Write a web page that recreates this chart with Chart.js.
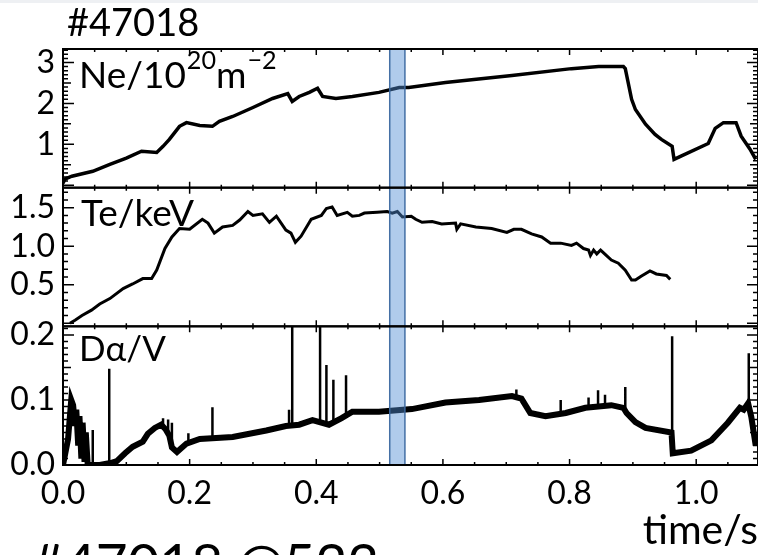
<!DOCTYPE html>
<html>
<head>
<meta charset="utf-8">
<title>#47018</title>
<script src="https://cdn.jsdelivr.net/npm/chart.js@4.4.1/dist/chart.umd.min.js"></script>
<style>
  html, body { margin: 0; padding: 0; width: 758px; height: 555px; overflow: hidden; background: #fff; }
  #wrap { position: relative; width: 758px; height: 555px; font-family: Lato, sans-serif; color: #000; }
  #topbar { position: absolute; left: 0; top: 0; width: 758px; height: 3px; background: #eef0f3; }
  canvas { position: absolute; left: 0; top: 0; }
  .lbl { position: absolute; line-height: 1; white-space: nowrap; }
  .sup { font-size: 0.68em; position: relative; top: -0.75em; margin-left: 1px; }
</style>
</head>
<body>
<div id="wrap">
  <div id="topbar"></div>
  <canvas id="shot" width="758" height="555"></canvas>
  <div class="lbl" style="left:67px; top:2px; font-size:38px;">#47018</div>
  <div class="lbl" style="left:79px; top:55px; font-size:37px;">Ne/10<span class="sup">20</span>m<span class="sup">&minus;2</span></div>
  <div class="lbl" style="left:81px; top:193px; font-size:37px;">Te/keV</div>
  <div class="lbl" style="left:79px; top:330px; font-size:35px;">D&alpha;/V</div>
  <div class="lbl" style="left:32px; top:535px; font-size:55px;">#47018 @523</div>
</div>
<script>
// axis ticks
const xTicks = [0.0, 0.2, 0.4, 0.6, 0.8, 1.0];
const neTicks = [1, 2, 3];
const teTicks = [0.5, 1.0, 1.5];
const daTicks = [0.0, 0.1, 0.2];

// time window of the analysed slice (s)
const bandStart = 0.516;
const bandEnd = 0.540;

// line density Ne (10^20 m^-2)
const neTime = [0.000, 0.003, 0.014, 0.047, 0.074, 0.100, 0.124, 0.148, 0.158, 0.168,
  0.184, 0.195, 0.216, 0.236, 0.247, 0.268, 0.300, 0.331, 0.355, 0.362,
  0.373, 0.389, 0.402, 0.410, 0.431, 0.457, 0.499, 0.531, 0.546, 0.604,
  0.709, 0.803, 0.846, 0.885, 0.888, 0.898, 0.904, 0.920, 0.935, 0.945,
  0.962, 0.965, 0.976, 1.019, 1.030, 1.043, 1.063, 1.071, 1.085, 1.094];
const neValue = [0.05, 0.15, 0.22, 0.34, 0.51, 0.66, 0.83, 0.80, 0.95, 1.12,
  1.44, 1.53, 1.46, 1.44, 1.56, 1.68, 1.90, 2.12, 2.24, 2.05,
  2.17, 2.27, 2.37, 2.17, 2.12, 2.17, 2.27, 2.39, 2.39, 2.51,
  2.68, 2.85, 2.90, 2.90, 2.85, 2.10, 1.85, 1.49, 1.24, 1.12,
  0.95, 0.63, 0.71, 1.02, 1.39, 1.53, 1.53, 1.20, 0.88, 0.63];

// electron temperature Te (keV)
const teTime = [0.011, 0.019, 0.030, 0.045, 0.058, 0.074, 0.095, 0.110, 0.126, 0.140,
  0.148, 0.161, 0.172, 0.184, 0.200, 0.220, 0.229, 0.239, 0.252, 0.268,
  0.279, 0.292, 0.300, 0.315, 0.326, 0.337, 0.352, 0.360, 0.367, 0.376,
  0.392, 0.408, 0.416, 0.425, 0.433, 0.449, 0.457, 0.468, 0.476, 0.496,
  0.512, 0.520, 0.528, 0.536, 0.550, 0.557, 0.567, 0.583, 0.598, 0.620,
  0.622, 0.628, 0.652, 0.677, 0.701, 0.712, 0.724, 0.740, 0.756, 0.770,
  0.786, 0.803, 0.811, 0.822, 0.830, 0.833, 0.838, 0.843, 0.849, 0.858,
  0.866, 0.877, 0.888, 0.898, 0.904, 0.913, 0.927, 0.937, 0.953, 0.959];
const teValue = [0.00, 0.04, 0.10, 0.17, 0.25, 0.32, 0.45, 0.51, 0.58, 0.58,
  0.69, 0.97, 1.12, 1.23, 1.22, 1.35, 1.30, 1.17, 1.25, 1.27,
  1.34, 1.45, 1.40, 1.42, 1.31, 1.39, 1.21, 1.17, 1.05, 1.13,
  1.35, 1.40, 1.49, 1.51, 1.40, 1.44, 1.39, 1.40, 1.43, 1.44,
  1.45, 1.43, 1.45, 1.38, 1.39, 1.35, 1.31, 1.32, 1.29, 1.30,
  1.22, 1.29, 1.25, 1.23, 1.18, 1.22, 1.22, 1.16, 1.12, 1.04,
  1.04, 1.01, 1.04, 0.97, 0.95, 0.88, 0.95, 0.90, 0.95, 0.88,
  0.82, 0.78, 0.69, 0.56, 0.56, 0.61, 0.68, 0.64, 0.62, 0.57];

// D-alpha emission (V), base signal
const daTime = [0.000, 0.008, 0.013, 0.016, 0.019, 0.021, 0.024, 0.026, 0.029, 0.031,
  0.034, 0.036, 0.039, 0.045, 0.058, 0.075, 0.085, 0.098, 0.110, 0.126,
  0.134, 0.145, 0.155, 0.162, 0.168, 0.172, 0.180, 0.195, 0.216, 0.268,
  0.321, 0.352, 0.373, 0.394, 0.420, 0.440, 0.457, 0.499, 0.551, 0.604,
  0.657, 0.709, 0.724, 0.738, 0.762, 0.794, 0.825, 0.866, 0.885, 0.890,
  0.904, 0.920, 0.961, 0.963, 0.992, 1.024, 1.050, 1.069, 1.075, 1.082,
  1.087, 1.094];
const daValue = [0.000, 0.040, 0.100, 0.092, 0.060, 0.085, 0.030, 0.075, 0.010, 0.065,
  0.005, 0.050, 0.000, 0.000, 0.000, 0.003, 0.006, 0.018, 0.028, 0.036,
  0.048, 0.057, 0.062, 0.055, 0.045, 0.027, 0.020, 0.033, 0.040, 0.043,
  0.053, 0.060, 0.062, 0.069, 0.062, 0.072, 0.082, 0.082, 0.086, 0.096,
  0.100, 0.106, 0.102, 0.080, 0.075, 0.080, 0.088, 0.092, 0.088, 0.080,
  0.066, 0.057, 0.050, 0.018, 0.022, 0.038, 0.065, 0.088, 0.085, 0.095,
  0.074, 0.030];

// D-alpha bursts: time, level before the burst, burst peak
const spikeTime = [0.047, 0.073, 0.158, 0.166, 0.172, 0.198, 0.236, 0.357, 0.362, 0.406,
  0.416, 0.427, 0.447, 0.716, 0.786, 0.830, 0.845, 0.856, 0.888, 0.962, 1.083];
const spikeBase = [0.000, 0.002, 0.060, 0.050, 0.030, 0.034, 0.041, 0.060, 0.060, 0.068,
  0.066, 0.064, 0.076, 0.106, 0.080, 0.089, 0.090, 0.091, 0.088, 0.050, 0.095];
const spikePeak = [0.054, 0.148, 0.072, 0.070, 0.065, 0.049, 0.089, 0.085, 0.213, 0.213,
  0.154, 0.131, 0.138, 0.116, 0.100, 0.104, 0.115, 0.108, 0.120, 0.198, 0.172];

const xMax = 1.0976;
const font = { family: 'Lato', size: 32 };

function pairs(ts, vs) {
  return ts.map((t, i) => ({ x: t, y: vs[i] }));
}

function spikePoints() {
  const pts = [];
  spikeTime.forEach((t, i) => {
    pts.push({ x: t, y: spikeBase[i] });
    pts.push({ x: t, y: spikePeak[i] });
    pts.push({ x: t, y: null });
  });
  return pts;
}

// minor/mid tick spacing for each panel
const panelTicks = [
  { id: 'yNe', major: [0, ...neTicks], mid: 0.5, minor: 0.1 },
  { id: 'yTe', major: [0, ...teTicks], mid: null, minor: 0.1 },
  { id: 'yDa', major: daTicks, mid: 0.05, minor: 0.01 }
];

function steps(min, max, step) {
  const out = [];
  for (let k = Math.ceil(min / step - 1e-6); k * step <= max + 1e-9; k++) out.push(k * step);
  return out;
}

// frame, inward ticks and the shaded time slice
const panelFrame = {
  id: 'panelFrame',
  afterDatasetsDraw(chart) {
    const ctx = chart.ctx;
    const xs = chart.scales.x;
    const area = chart.chartArea;

    ctx.save();
    const b0 = xs.getPixelForValue(bandStart);
    const b1 = xs.getPixelForValue(bandEnd);
    ctx.fillStyle = 'rgba(79, 140, 210, 0.45)';
    ctx.fillRect(b0, area.top, b1 - b0, area.bottom - area.top);
    ctx.strokeStyle = 'rgba(60, 105, 160, 0.95)';
    ctx.lineWidth = 1.5;
    ctx.strokeRect(b0, area.top, b1 - b0, area.bottom - area.top);

    ctx.strokeStyle = '#000';
    panelTicks.forEach(p => {
      const ys = chart.scales[p.id];
      const top = ys.top, bottom = ys.bottom;
      const left = area.left, right = area.right;

      ctx.lineWidth = 2;
      ctx.strokeRect(left, top, right - left, bottom - top);

      ctx.lineWidth = 1.5;
      ctx.beginPath();
      steps(ys.min, ys.max, p.minor).forEach(v => {
        const y = ys.getPixelForValue(v);
        let len = 5;
        if (p.major.some(m => Math.abs(m - v) < 1e-6)) len = 11;
        else if (p.mid && Math.abs(v / p.mid - Math.round(v / p.mid)) < 1e-6) len = 8;
        ctx.moveTo(left, y); ctx.lineTo(left + len, y);
        ctx.moveTo(right, y); ctx.lineTo(right - len, y);
      });
      steps(0, xs.max, 0.05).forEach(v => {
        const x = xs.getPixelForValue(v);
        const len = xTicks.some(m => Math.abs(m - v) < 1e-6) ? 6 : 3;
        ctx.moveTo(x, top); ctx.lineTo(x, top + len);
        ctx.moveTo(x, bottom); ctx.lineTo(x, bottom - len);
      });
      ctx.stroke();
    });
    ctx.restore();
  }
};

function yAxis(min, max, tickList, digits) {
  return {
    type: 'linear', position: 'left', stack: 'panels', stackWeight: 1,
    min: min, max: max,
    grid: { display: false, drawTicks: false },
    border: { display: false },
    afterBuildTicks: s => { s.ticks = tickList.map(v => ({ value: v })); },
    afterFit: s => { s.width = 63; },
    ticks: { font: font, color: '#000', padding: 8, autoSkip: false, callback: v => v.toFixed(digits) }
  };
}

new Chart(document.getElementById('shot'), {
  type: 'line',
  data: {
    datasets: [
      { data: pairs(neTime, neValue), yAxisID: 'yNe', borderColor: '#000', borderWidth: 3.5, pointRadius: 0 },
      { data: pairs(teTime, teValue), yAxisID: 'yTe', borderColor: '#000', borderWidth: 3, pointRadius: 0 },
      { data: pairs(daTime, daValue), yAxisID: 'yDa', borderColor: '#000', borderWidth: 6, pointRadius: 0 },
      { data: spikePoints(), yAxisID: 'yDa', borderColor: '#000', borderWidth: 2.5, pointRadius: 0, spanGaps: false }
    ]
  },
  options: {
    responsive: false,
    animation: false,
    layout: { padding: { top: 49, left: 0, right: -2, bottom: 0 } },
    plugins: { legend: { display: false }, tooltip: { enabled: false } },
    scales: {
      x: {
        type: 'linear', min: 0, max: xMax,
        grid: { display: false, drawTicks: false },
        border: { display: false },
        afterBuildTicks: s => { s.ticks = xTicks.map(v => ({ value: v })); },
        afterFit: s => { s.height = 90; },
        ticks: { font: font, color: '#000', padding: 9, maxRotation: 0, autoSkip: false, callback: v => v.toFixed(1) },
        title: { display: true, text: 'time/s', align: 'end', font: { family: 'Lato', size: 41 }, color: '#000', padding: { top: 0, bottom: 0 } }
      },
      // left boxes in one stack are placed last-first, so the bottom panel comes first
      yDa: yAxis(0, 0.2133, daTicks, 1),
      yTe: yAxis(-0.04, 1.76, teTicks, 1),
      yNe: yAxis(-0.06, 3.33, neTicks, 0)
    }
  },
  plugins: [panelFrame]
});
</script>
</body>
</html>
